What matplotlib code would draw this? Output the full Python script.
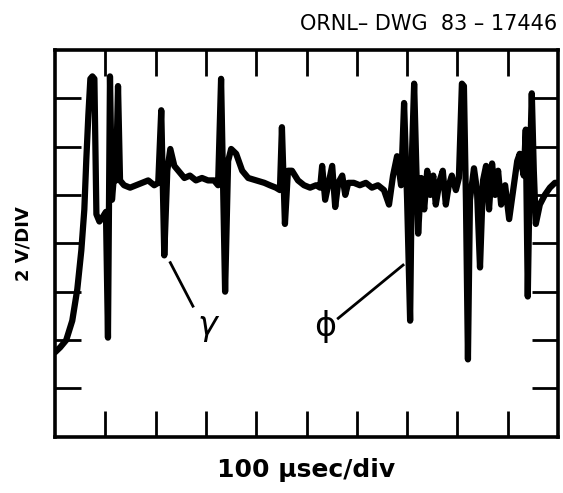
"""
Oscilloscope trace redrawn from ORNL-DWG 83-17446.

The screen grid is 10 x 8 divisions, 100 usec/div horizontally and
2 V/div vertically. Trace values are read off the scanned drawing.
"""

import matplotlib
matplotlib.use("Agg")
import matplotlib.pyplot as plt

# --------------------------------------------------------------------------- #
#  Screen scale
# --------------------------------------------------------------------------- #
US_PER_DIV = 100.0
V_PER_DIV = 2.0
N_XDIV = 10
N_YDIV = 8

# --------------------------------------------------------------------------- #
#  Trace data (time in usec, signal in volts above the bottom graticule line)
# --------------------------------------------------------------------------- #
time_us = [
    0, 10, 22, 34, 44, 52, 58, 62, 66, 70, 74, 78, 80, 82, 88, 95, 101,
    105, 109, 113, 117, 121, 125, 129, 137, 149, 161, 173, 185, 197, 205,
    211, 217, 223, 229, 237, 245, 257, 268, 280, 292, 304, 316, 324,
    330, 338, 344, 350, 360, 372, 384, 400, 416, 427, 439, 447,
    451, 457, 463, 471, 483, 495, 507, 519, 527,
    531, 537, 543, 551, 557, 563, 571, 577, 583, 594, 606, 618, 630, 642,
    654, 664, 672, 680, 688,
    694, 700, 706, 710, 714, 718, 722, 728, 734, 740, 746, 752, 757, 765,
    771, 777, 783, 789, 797, 803,
    809, 813, 817, 821, 825, 833, 839, 845, 851, 857, 863, 869, 875, 881,
    887, 895, 903, 911, 919, 924, 932, 936, 940, 944, 948, 952, 956, 964,
    974, 984, 994, 1000,
]

signal_v = [
    3.5, 3.7, 4.0, 4.8, 6.1, 7.7, 9.4, 11.5, 13.3, 14.8, 14.9, 14.8, 11.9, 9.2, 8.9, 9.1, 9.3,
    4.1, 14.9, 9.8, 10.8, 10.6, 14.5, 10.6, 10.4, 10.3, 10.4, 10.5, 10.6, 10.4, 10.5,
    13.5, 7.5, 11.0, 11.9, 11.2, 11.0, 10.7, 10.8, 10.6, 10.7, 10.6, 10.6, 10.4,
    14.8, 6.0, 11.4, 11.9, 11.7, 11.0, 10.7, 10.6, 10.5, 10.4, 10.3, 10.2,
    12.8, 8.8, 11.0, 11.0, 10.6, 10.4, 10.3, 10.4, 10.3,
    11.2, 9.8, 10.4, 11.2, 9.5, 10.5, 10.8, 10.0, 10.5, 10.5, 10.4, 10.5, 10.3, 10.4,
    10.2, 9.6, 10.8, 11.6, 10.4,
    13.8, 9.8, 4.8, 11.9, 14.6, 11.4, 8.4, 10.7, 9.4, 11.0, 10.0, 10.8, 9.6, 10.6,
    11.0, 9.6, 10.4, 10.8, 10.2, 10.7,
    14.6, 14.5, 9.8, 3.2, 9.8, 11.1, 10.2, 7.0, 10.6, 11.2, 9.4, 11.3, 10.0, 11.0,
    9.6, 10.4, 9.0, 10.2, 11.4, 11.7, 10.8, 12.7, 5.8, 11.0, 14.2, 11.0, 8.8, 9.6,
    10.0, 10.3, 10.5, 10.5,
]

# Labels for the marked pulses: (text, label position, leader start, leader end)
GAMMA_LABEL = ("\u03b3", (302, 4.6), (229, 7.2), (274, 5.4))
PHI_LABEL = ("\u03d5", (537, 4.55), (692, 7.1), (563, 4.9))

DRAWING_NO = "ORNL\u2013 DWG  83 \u2013 17446"


def draw_screen(ax):
    """Graticule box with inward tick marks at every division."""
    ax.set_xlim(0, N_XDIV * US_PER_DIV)
    ax.set_ylim(0, N_YDIV * V_PER_DIV)
    ax.set_xticks([k * US_PER_DIV for k in range(1, N_XDIV)])
    ax.set_yticks([k * V_PER_DIV for k in range(1, N_YDIV)])
    ax.tick_params(axis="both", direction="in", length=19, width=2.0,
                   top=True, right=True, labelbottom=False, labelleft=False)
    for spine in ax.spines.values():
        spine.set_linewidth(2.6)


def main():
    fig = plt.figure(figsize=(5.63, 4.93), dpi=100)
    ax = fig.add_axes([0.098, 0.114, 0.893, 0.785])
    draw_screen(ax)

    ax.plot(time_us, signal_v, color="black", linewidth=4.5,
            solid_joinstyle="round", solid_capstyle="round")

    for text, pos, start, end in (GAMMA_LABEL, PHI_LABEL):
        ax.plot([start[0], end[0]], [start[1], end[1]], color="black", linewidth=2.0)
        ax.text(pos[0], pos[1], text, fontsize=24, ha="center", va="center",
                fontstyle="italic" if text == "\u03b3" else "normal")

    ax.set_xlabel("100 \u03bcsec/div", fontsize=18, fontweight="bold", labelpad=15)
    ax.set_ylabel("2 V/DIV", fontsize=13, fontweight="bold", labelpad=16)
    fig.text(0.99, 0.952, DRAWING_NO, fontsize=15, ha="right", va="center",
             fontweight="medium")

    fig.savefig("out.png", dpi=100)


if __name__ == "__main__":
    main()
